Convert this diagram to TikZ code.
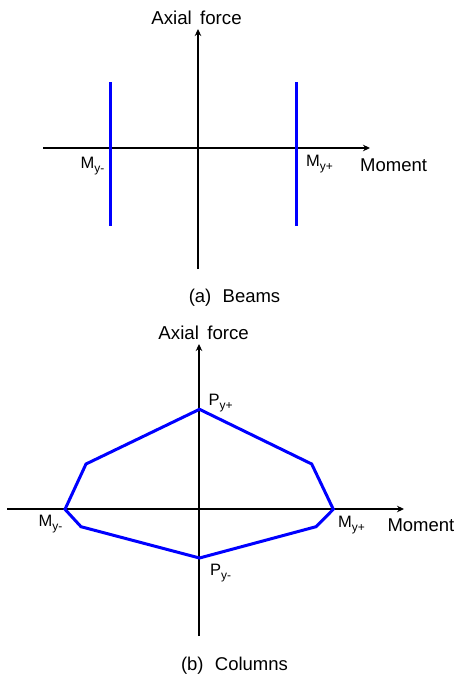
\documentclass[tikz,border=0pt]{standalone}
\usepackage{fontspec}
\setmainfont{Liberation Sans}
\usetikzlibrary{arrows.meta}
\newcommand\mysub[1]{\raisebox{-4pt}{\fontsize{12}{12}\selectfont #1}}
\begin{document}
\begin{tikzpicture}[x=1pt,y=-1pt,
  axis/.style={draw=black,line width=1.2pt,-{Stealth[length=7pt,width=6.5pt]}},
  curve/.style={draw=blue,line width=3pt},
  lbl/.style={inner sep=0pt,anchor=base west,font=\fontsize{16.5}{16.5}\selectfont},
  big/.style={inner sep=0pt,anchor=base,font=\fontsize{18.7}{18.7}\selectfont},
  captxt/.style={inner sep=0pt,anchor=base,font=\fontsize{18.5}{18.5}\selectfont}]
\useasboundingbox (0,0) rectangle (459,675);
% ---- (a) Beams ----
\coordinate (aL) at (43,148);
\coordinate (aR) at (370,148);
\coordinate (aB) at (198,269);
\coordinate (aT) at (198,29);
\draw[axis] (aL) -- (aR);
\draw[axis] (aB) -- (aT);
\coordinate (b1t) at (110,82); \coordinate (b1b) at (110,226);
\coordinate (b2t) at (296,82); \coordinate (b2b) at (296,226);
\draw[curve] (b1t) -- (b1b);
\draw[curve] (b2t) -- (b2b);
\node[big] (aAx) at (196.5,24) {Axial\, force};
\node[lbl] (aMm) at (80.5,168) {M\mysub{y-}};
\node[lbl] (aMp) at (306,166.5) {M\mysub{y+}};
\node[lbl,font=\fontsize{18.5}{18.5}\selectfont] (aMo) at (360,171.5) {Moment};
\node[captxt] (aCap) at (234.5,302.5) {(a)\, \,Beams};
% ---- (b) Columns ----
\coordinate (cL) at (7,509);
\coordinate (cR) at (404,509);
\coordinate (cB) at (199,636);
\coordinate (cT) at (199,344);
\draw[axis] (cL) -- (cR);
\draw[axis] (cB) -- (cT);
\coordinate (pT) at (199.5,409.3);
\coordinate (pUR) at (311.7,464);
\coordinate (pMR) at (333.3,509.3);
\coordinate (pLR) at (316,526.7);
\coordinate (pB) at (199.5,558);
\coordinate (pLL) at (81,526.7);
\coordinate (pML) at (65,509.3);
\coordinate (pUL) at (86,464);
\draw[curve] (pT) -- (pUR) -- (pMR) -- (pLR) -- (pB) -- (pLL) -- (pML) -- (pUL) -- cycle;
\node[big] (cAx) at (203.7,339.3) {Axial\, force};
\node[lbl] (cPp) at (208.3,405) {P\mysub{y+}};
\node[lbl] (cPm) at (210,575) {P\mysub{y-}};
\node[lbl] (cMm) at (38.5,526.7) {M\mysub{y-}};
\node[lbl] (cMp) at (338,527.3) {M\mysub{y+}};
\node[lbl,font=\fontsize{18.5}{18.5}\selectfont] (cMo) at (387.3,531) {Moment};
\node[captxt] (cCap) at (234.5,670.5) {(b)\, \,Columns};
\end{tikzpicture}
\end{document}
